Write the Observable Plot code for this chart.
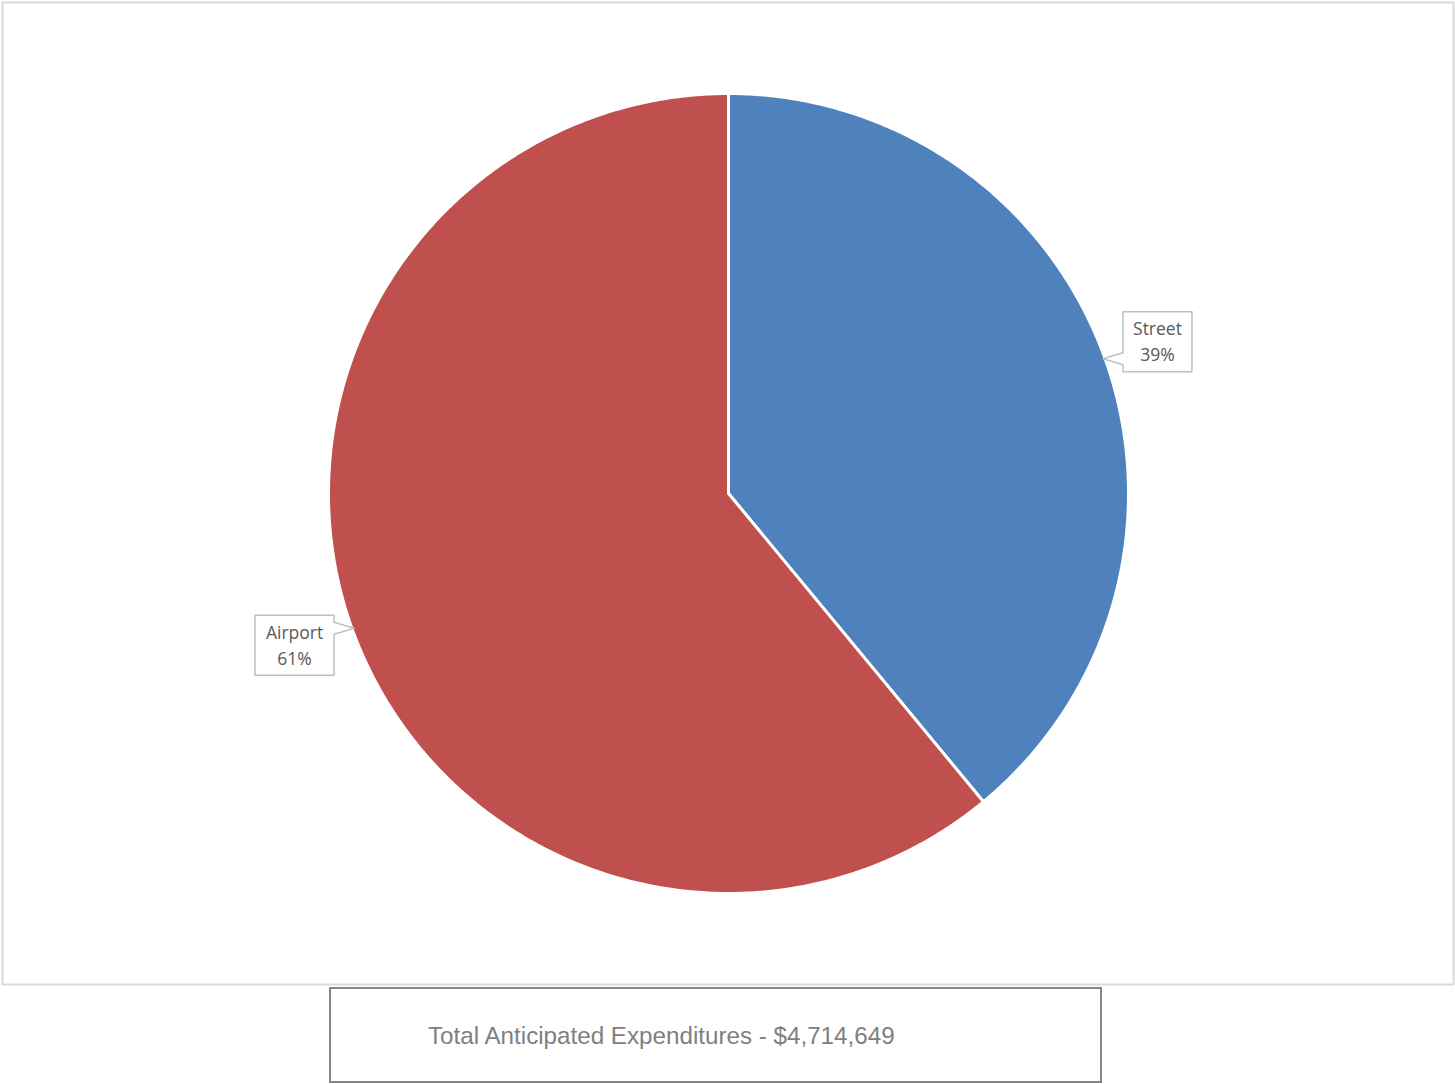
<!DOCTYPE html>
<html>
<head>
<meta charset="utf-8">
<script src="https://cdn.jsdelivr.net/npm/d3@7"></script>
<script src="https://cdn.jsdelivr.net/npm/@observablehq/plot@0.6"></script>
<style>
  html, body { margin: 0; padding: 0; background: #fff; }
  #chart svg { display: block; }
  #total {
    margin-left: 329px;
    margin-top: 1px;
    width: 773px;
    height: 96px;
    border: 2px solid #858585;
    font-family: "Liberation Sans", Arial, sans-serif;
    font-size: 24.2px;
    color: #808080;
    display: flex;
    align-items: center;
    padding-left: 97px;
    padding-top: 1px;
    box-sizing: border-box;
  }
</style>
</head>
<body>
<div id="chart"></div>
<div id="total"></div>
<script>
// ---- data ----
const categories = ["Street", "Airport"];
const shares = [39, 61];               // percent of total
const sliceColors = ["#4f81bd", "#c0504d"];
const totalLabel = "Total Anticipated Expenditures - $4,714,649";

// ---- layout ----
const W = 1455, H = 986;
const cx = 728, cy = 493, R = 400;

const pie = d3.pie().sort(null).value(d => d)(shares);

const pt = (a, r) => [cx + r * Math.sin(a), cy - r * Math.cos(a)];

// slice polygons
const slicePts = [];
pie.forEach((p, i) => {
  const n = Math.max(8, Math.ceil((p.endAngle - p.startAngle) / (2 * Math.PI) * 720));
  slicePts.push({name: categories[i], x: cx, y: cy});
  for (let k = 0; k <= n; k++) {
    const a = p.startAngle + (p.endAngle - p.startAngle) * k / n;
    const [x, y] = pt(a, R);
    slicePts.push({name: categories[i], x, y});
  }
});

// callouts
const calloutPts = [];
const labels = [];
const BOX_H = 60;
pie.forEach((p, i) => {
  const mid = (p.startAngle + p.endAngle) / 2;
  const [tx, ty] = pt(mid, R - 2);
  const right = tx > cx;
  const bw = categories[i].length * 10 + 9;
  const gap = 20;
  const bcy = ty + (ty < cy ? -17 : 17);
  const top = bcy - BOX_H / 2, bot = bcy + BOX_H / 2;
  const b1 = Math.max(top + 2, ty - 6), b2 = Math.min(bot - 2, ty + 6);
  let poly;
  if (right) {
    const l = tx + gap, r = l + bw;
    poly = [[l, top], [r, top], [r, bot], [l, bot], [l, b2], [tx, ty], [l, b1]];
    labels.push({x: (l + r) / 2, y: bcy, text: `${categories[i]}\n${shares[i]}%`});
  } else {
    const r = tx - gap, l = r - bw;
    poly = [[l, top], [r, top], [r, b1], [tx, ty], [r, b2], [r, bot], [l, bot]];
    labels.push({x: (l + r) / 2, y: bcy, text: `${categories[i]}\n${shares[i]}%`});
  }
  poly.forEach(([x, y]) => calloutPts.push({name: categories[i], x, y}));
});

const chart = Plot.plot({
  width: W,
  height: H,
  margin: 0,
  x: {domain: [0, W], range: [0, W], axis: null},
  y: {domain: [0, H], range: [0, H], axis: null},
  color: {domain: categories, range: sliceColors},
  marks: [
    Plot.frame({stroke: "#d9d9d9", strokeWidth: 2, inset: 2}),
    Plot.line(slicePts, {
      x: "x", y: "y", z: "name", fill: "name",
      stroke: "white", strokeWidth: 3, strokeLinejoin: "round",
      curve: "linear-closed"
    }),
    Plot.line(calloutPts, {
      x: "x", y: "y", z: "name", fill: "white",
      stroke: "#bfbfbf", strokeWidth: 1.5, curve: "linear-closed"
    }),
    Plot.text(labels, {
      x: "x", y: "y", dy: -2, text: "text",
      fontSize: 17.5, lineHeight: 1.5, fill: "#595959",
      fontFamily: "'Open Sans', 'Noto Sans', sans-serif"
    })
  ]
});

document.getElementById("chart").append(chart);
document.getElementById("total").textContent = totalLabel;
</script>
</body>
</html>
